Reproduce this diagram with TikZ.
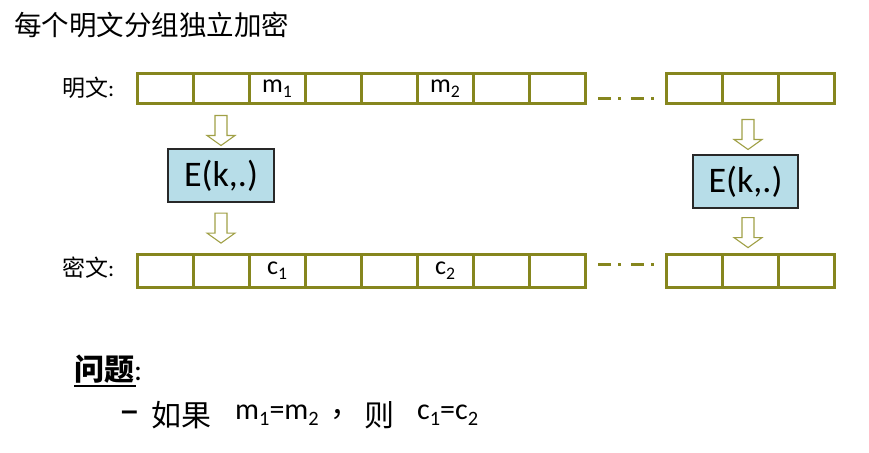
\documentclass[tikz,border=0pt]{standalone}
\usepackage{fontspec}
\setmainfont{Carlito}
\newfontfamily\cjk{Noto Sans CJK SC}
\newfontfamily\dashfont{Liberation Sans}
\usetikzlibrary{calc}
\definecolor{olivec}{RGB}{134,134,30}
\definecolor{arrowc}{RGB}{160,160,70}
\definecolor{boxfill}{RGB}{183,221,232}
\definecolor{boxline}{RGB}{40,40,40}
\newcommand{\lowsub}[1]{\raisebox{-0.2em}{\scalebox{0.68}{#1}}}
\tikzset{
  downarr/.pic={\draw[draw=arrowc, fill=white, line width=1.1pt, line join=miter]
     (-6,-15) -- (-6,5) -- (-14,5) -- (0,15) -- (14,5) -- (6,5) -- (6,-15) -- cycle;}
}
\begin{document}
\begin{tikzpicture}[x=1pt,y=-1pt,
  cellA/.style={draw=olivec, line width=3pt, minimum width=56pt, minimum height=30pt,
     inner sep=0pt, outer sep=0pt, font=\fontsize{26}{28}\selectfont},
  cellB/.style={cellA, minimum height=33pt},
  ebox/.style={draw=boxline, fill=boxfill, line width=1.2pt, minimum width=106pt,
     minimum height=53pt, inner sep=0pt, font=\fontsize{36}{40}\selectfont},
  dotline/.style={draw=olivec, line width=3pt, dash pattern=on 13pt off 7pt on 3pt off 10pt},
  rowlabel/.style={anchor=west, inner sep=0pt, font=\fontsize{23}{26}\selectfont},
  bigtxt/.style={anchor=west, inner sep=0pt, font=\fontsize{30}{34}\selectfont}
]
\useasboundingbox (0,0) rectangle (869,452);

% title
\node[anchor=west, inner sep=0pt, font=\cjk\fontsize{27.5}{30}\selectfont] (title) at (14,25) {每个明文分组独立加密};

% plaintext row
\node[rowlabel] (lp) at (62,88) {{\cjk 明文}:};
\node[cellA] (p1) at (165,88.5) {};
\node[cellA] (p2) at (221,88.5) {};
\node[cellA] (p3) at (277,88.5) {m\lowsub{1}};
\node[cellA] (p4) at (333,88.5) {};
\node[cellA] (p5) at (389,88.5) {};
\node[cellA] (p6) at (445,88.5) {m\lowsub{2}};
\node[cellA] (p7) at (501,88.5) {};
\node[cellA] (p8) at (557,88.5) {};
\node[cellA] (q1) at (694,88.5) {};
\node[cellA] (q2) at (750,88.5) {};
\node[cellA] (q3) at (806,88.5) {};
\draw[dotline] ($(p8.south east)+(13,-5)$) -- ($(q1.south west)+(-11,-5)$);

% ciphertext row
\node[rowlabel] (lc) at (62,268) {{\cjk 密文}:};
\node[cellB] (c1) at (165,270.5) {};
\node[cellB] (c2) at (221,270.5) {};
\node[cellB] (c3) at (277,270.5) {c\lowsub{1}};
\node[cellB] (c4) at (333,270.5) {};
\node[cellB] (c5) at (389,270.5) {};
\node[cellB] (c6) at (445,270.5) {c\lowsub{2}};
\node[cellB] (c7) at (501,270.5) {};
\node[cellB] (c8) at (557,270.5) {};
\node[cellB] (d1) at (694,270.5) {};
\node[cellB] (d2) at (750,270.5) {};
\node[cellB] (d3) at (806,270.5) {};
\draw[dotline] ($(c8.north east)+(13,10)$) -- ($(d1.north west)+(-11,10)$);

% encryption boxes
\node[ebox] (E1) at (221,175.5) {E(k,.)};
\node[ebox, minimum width=105pt] (E2) at (745.5,181.5) {E(k,.)};

% block arrows
\pic at ($(p2.south)+(0,27)$) {downarr};
\pic at ($(E1.south)+(0,25.5)$) {downarr};
\pic at ($(q2.south)+(-2,31)$) {downarr};
\pic at ($(E2.south)+(2.5,24)$) {downarr};

% question
\node[bigtxt] (qq) at (74,371) {\makebox[0pt][l]{\rule[-7pt]{62pt}{2.6pt}}{\cjk\bfseries 问题}:};
\node[bigtxt] (dash) at (121,416) {\dashfont\bfseries –};
\node[bigtxt] (ru) at (151,415) {\cjk 如果};
\node[bigtxt] (mm) at (235,415) {m\lowsub{1}=m\lowsub{2}};
\node[bigtxt] (cm) at (330,415) {\cjk ，};
\node[bigtxt] (ze) at (364,415) {\cjk 则};
\node[bigtxt] (cc) at (417,415) {c\lowsub{1}=c\lowsub{2}};
\end{tikzpicture}
\end{document}
